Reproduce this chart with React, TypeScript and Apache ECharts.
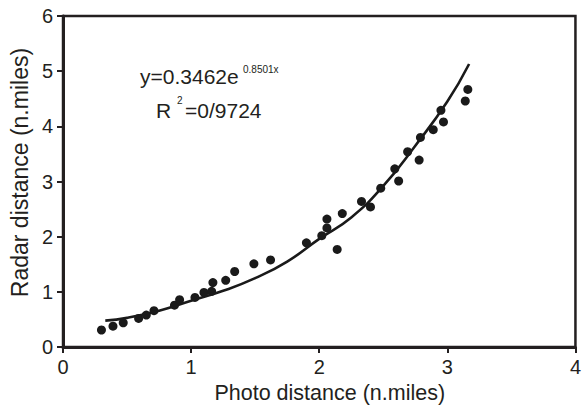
import React, { useEffect, useRef } from "react";
import * as echarts from "echarts";

const photoDistance = [0.30, 0.39, 0.47, 0.59, 0.65, 0.71, 0.87, 0.91, 1.03, 1.10, 1.16, 1.17, 1.27, 1.34, 1.49, 1.62, 1.90, 2.02, 2.06, 2.06, 2.14, 2.18, 2.33, 2.40, 2.48, 2.59, 2.62, 2.69, 2.78, 2.79, 2.89, 2.95, 2.97, 3.14, 3.16];
const radarDistance = [0.31, 0.38, 0.44, 0.52, 0.58, 0.66, 0.76, 0.86, 0.90, 0.99, 1.01, 1.17, 1.21, 1.37, 1.51, 1.58, 1.89, 2.02, 2.16, 2.32, 1.77, 2.42, 2.64, 2.54, 2.88, 3.23, 3.01, 3.54, 3.39, 3.80, 3.94, 4.29, 4.08, 4.46, 4.67];

const fitX = [0.33, 0.5, 0.75, 1.0, 1.25, 1.5, 1.75, 2.0, 2.25, 2.5, 2.75, 3.0, 3.17];
const fitY = [0.48, 0.53, 0.66, 0.84, 1.02, 1.25, 1.55, 1.96, 2.35, 2.92, 3.65, 4.45, 5.13];

const xTicks = ["0", "1", "2", "3", "4"];
const yTicks = ["0", "1", "2", "3", "4", "5", "6"];

const FONT = "'Liberation Sans', Arial, sans-serif";
const INK = "#231f20";

export default function App() {
  const ref = useRef<HTMLDivElement>(null);
  useEffect(() => {
    if (!ref.current) return;
    const chart = echarts.init(ref.current, null, { renderer: "svg" });
    chart.setOption({
      animation: false,
      backgroundColor: "#ffffff",
      grid: {
        left: 63,
        right: 6,
        top: 16,
        bottom: 60,
        show: true,
        borderColor: INK,
        borderWidth: 2.5,
      },
      xAxis: {
        type: "value",
        min: 0,
        max: 4,
        interval: 1,
        name: "Photo distance (n.miles)",
        nameLocation: "middle",
        nameGap: 34,
        nameTextStyle: { fontFamily: FONT, fontSize: 21.5, color: INK, padding: [0, 0, 0, 21] },
        axisLine: { show: true, lineStyle: { color: INK, width: 3 } },
        axisTick: { show: true, length: 6, lineStyle: { color: INK, width: 2 } },
        axisLabel: {
          fontFamily: FONT,
          fontSize: 20,
          color: INK,
          margin: 10,
          formatter: (v: number) => xTicks[Math.round(v)] ?? "",
        },
        splitLine: { show: false },
      },
      yAxis: {
        type: "value",
        min: 0,
        max: 6,
        interval: 1,
        name: "Radar distance (n.miles)",
        nameLocation: "middle",
        nameGap: 32,
        nameTextStyle: { fontFamily: FONT, fontSize: 23, color: INK, padding: [0, 0, 0, 18] },
        axisLine: { show: true, lineStyle: { color: INK, width: 3 } },
        axisTick: { show: true, length: 6, lineStyle: { color: INK, width: 2 } },
        axisLabel: {
          fontFamily: FONT,
          fontSize: 20,
          color: INK,
          margin: 10,
          formatter: (v: number) => yTicks[Math.round(v)] ?? "",
        },
        splitLine: { show: false },
      },
      series: [
        {
          type: "line",
          data: fitX.map((x, i) => [x, fitY[i]]),
          smooth: true,
          symbol: "none",
          lineStyle: { color: "#1a1a1a", width: 2.6 },
          z: 2,
        },
        {
          type: "scatter",
          data: photoDistance.map((x, i) => [x, radarDistance[i]]),
          symbol: "circle",
          symbolSize: 9,
          itemStyle: { color: "#1a1a1a", opacity: 1 },
          z: 3,
        },
      ],
      graphic: [
        {
          type: "text",
          left: 140,
          top: 66,
          style: { text: "y=0.3462e", fontFamily: FONT, fontSize: 21, fill: INK },
        },
        {
          type: "text",
          left: 243,
          top: 64,
          style: { text: "0.8501x", fontFamily: FONT, fontSize: 10, fill: INK },
        },
        {
          type: "text",
          left: 156,
          top: 100,
          style: { text: "R", fontFamily: FONT, fontSize: 21, fill: INK },
        },
        {
          type: "text",
          left: 177,
          top: 95,
          style: { text: "2", fontFamily: FONT, fontSize: 10, fill: INK },
        },
        {
          type: "text",
          left: 185,
          top: 100,
          style: { text: "=0/9724", fontFamily: FONT, fontSize: 21, fill: INK },
        },
      ],
    });
    return () => chart.dispose();
  }, []);
  return <div ref={ref} style={{ width: 584, height: 409, position: "absolute", left: 0, top: 0 }} />;
}
